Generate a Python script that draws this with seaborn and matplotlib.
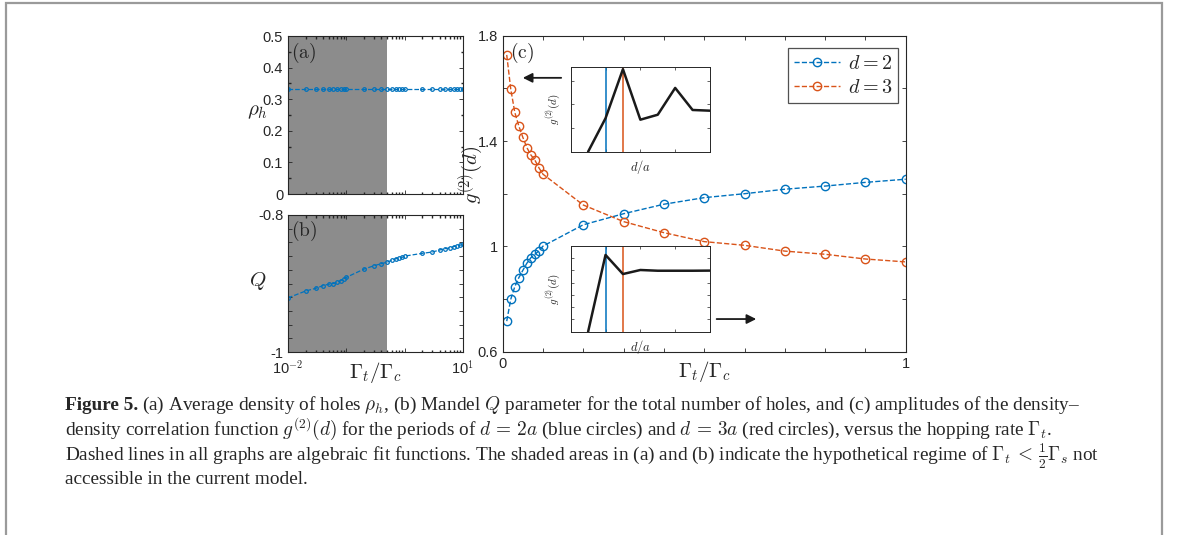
import numpy as np
import matplotlib
matplotlib.use("Agg")
import matplotlib.pyplot as plt
import seaborn as sns
from matplotlib.patches import Rectangle

# ---- data ----
# hopping rate samples (log panels)
gamma_log = [0.01, 0.02, 0.03, 0.04, 0.05, 0.06, 0.07, 0.08, 0.09, 0.1,
             0.2, 0.3, 0.4, 0.5, 0.6, 0.7, 0.8, 0.9, 1.0,
             2, 3, 4, 5, 6, 7, 8, 9, 10]
rho_h = [0.333] * 28
mandel_q = [-0.921, -0.911, -0.907, -0.903, -0.901, -0.900, -0.898, -0.896, -0.893, -0.891,
            -0.879, -0.874, -0.871, -0.869, -0.866, -0.864, -0.863, -0.862,
            -0.860, -0.856, -0.854, -0.851, -0.849, -0.848, -0.846, -0.845, -0.844, -0.843]
shade_lo, shade_hi = 0.01, 0.5

# panel (c)
gamma_lin = [0.01, 0.02, 0.03, 0.04, 0.05, 0.06, 0.07, 0.08, 0.09, 0.1,
             0.2, 0.3, 0.4, 0.5, 0.6, 0.7, 0.8, 0.9, 1.0]
g2_d2 = [0.716, 0.799, 0.847, 0.881, 0.909, 0.936, 0.957, 0.970, 0.983, 1.001,
         1.082, 1.124, 1.160, 1.185, 1.200, 1.217, 1.229, 1.243, 1.255]
g2_d3 = [1.727, 1.597, 1.509, 1.457, 1.414, 1.375, 1.347, 1.327, 1.298, 1.274,
         1.157, 1.094, 1.052, 1.018, 1.004, 0.982, 0.970, 0.952, 0.941]

# insets: g2(d) profile vs d/a (arbitrary units)
d_sites = [1, 2, 3, 4, 5, 6, 7, 8]
g2_profile_top = [0.0, 1.41, 3.48, 1.35, 1.56, 2.69, 1.76, 1.73]
g2_profile_bot = [0.0, 6.27, 4.71, 5.04, 4.98, 4.98, 4.98, 4.99]

BLUE = "#0072BD"
ORANGE = "#D95319"
SHADE = "#8c8c8c"

sns.set_theme(style="ticks")
plt.rcParams.update({
    "font.family": ["Liberation Sans", "DejaVu Sans"],
    "mathtext.fontset": "cm",
    "xtick.direction": "in",
    "ytick.direction": "in",
    "xtick.top": True,
    "ytick.right": True,
    "xtick.major.size": 3,
    "ytick.major.size": 3,
    "xtick.minor.size": 1.8,
    "ytick.minor.size": 1.8,
    "xtick.major.width": 0.6,
    "ytick.major.width": 0.6,
    "axes.edgecolor": "#262626",
    "axes.linewidth": 0.8,
    "xtick.labelsize": 10.5,
    "ytick.labelsize": 10.5,
    "xtick.color": "#262626",
    "ytick.color": "#262626",
})

W, H = 1179, 535
fig = plt.figure(figsize=(W / 100, H / 100), dpi=100)


def box(l, t, r, b):
    return [l / W, 1 - b / H, (r - l) / W, (b - t) / H]


ax_a = fig.add_axes(box(288, 36, 463, 194))
ax_b = fig.add_axes(box(288, 215, 463, 352))
ax_c = fig.add_axes(box(502.7, 35.7, 905.7, 351.7))
ax_i1 = fig.add_axes(box(570.7, 67.3, 710, 151.7))
ax_i2 = fig.add_axes(box(570.7, 246, 710, 331.7))

small = dict(marker="o", markersize=2.6, markerfacecolor="none", markeredgecolor=BLUE,
             markeredgewidth=0.9, linestyle="--", dashes=(3, 3), lw=0.9, color=BLUE)

# ---- (a) ----
ax_a.axvspan(shade_lo, shade_hi, color=SHADE, lw=0, zorder=0)
sns.lineplot(x=gamma_log, y=rho_h, ax=ax_a, **small)
ax_a.set_xscale("log")
ax_a.set_xlim(0.01, 10)
ax_a.set_ylim(0, 0.5)
ax_a.set_yticks(np.arange(0, 0.51, 0.1))
ax_a.set_yticklabels(["0", "0.1", "0.2", "0.3", "0.4", "0.5"])
ax_a.set_yticks(np.arange(0.05, 0.5, 0.1), minor=True)
ax_a.set_xticks([0.01, 0.1, 1, 10])
ax_a.set_xticklabels([])
ax_a.set_xlabel("")
ax_a.set_ylabel("")
ax_a.text(-0.175, 0.52, r"$\rho_h$", transform=ax_a.transAxes, fontsize=15,
          ha="center", va="center")
ax_a.text(0.015, 0.97, r"$\mathrm{(a)}$", transform=ax_a.transAxes, fontsize=14, va="top", ha="left")

# ---- (b) ----
ax_b.axvspan(shade_lo, shade_hi, color=SHADE, lw=0, zorder=0)
sns.lineplot(x=gamma_log, y=mandel_q, ax=ax_b, **small)
ax_b.set_xscale("log")
ax_b.set_xlim(0.01, 10)
ax_b.set_ylim(-1, -0.8)
ax_b.set_yticks(np.linspace(-1, -0.8, 11))
ax_b.set_yticklabels(["-1"] + [""] * 9 + ["-0.8"])
ax_b.set_xticks([0.01, 0.1, 1, 10])
ax_b.xaxis.set_major_formatter(matplotlib.ticker.FixedFormatter(["10$^{-2}$", "", "", "10$^{1}$"]))
ax_b.tick_params(axis="x", pad=5)
ax_b.set_ylabel("")
ax_b.set_xlabel("")
ax_b.text(-0.175, 0.52, r"$Q$", transform=ax_b.transAxes, fontsize=15, ha="center", va="center")
ax_b.text(0.5, -0.15, r"$\Gamma_t/\Gamma_c$", transform=ax_b.transAxes, fontsize=15,
          ha="center", va="center")
ax_b.text(0.015, 0.97, r"$\mathrm{(b)}$", transform=ax_b.transAxes, fontsize=14, va="top", ha="left")

# ---- (c) ----
big = dict(marker="o", markersize=6, markerfacecolor="none", markeredgewidth=1.0,
           linestyle="--", dashes=(4, 3), lw=1.0)
sns.lineplot(x=gamma_lin, y=g2_d2, ax=ax_c, color=BLUE, markeredgecolor=BLUE,
             label=r"$d=2$", **big)
sns.lineplot(x=gamma_lin, y=g2_d3, ax=ax_c, color=ORANGE, markeredgecolor=ORANGE,
             label=r"$d=3$", **big)
ax_c.set_xlim(0, 1)
ax_c.set_ylim(0.6, 1.8)
ax_c.set_xticks(np.linspace(0, 1, 11))
ax_c.set_xticklabels(["0"] + [""] * 9 + ["1"])
ax_c.set_yticks(np.linspace(0.6, 1.8, 7))
ax_c.set_yticklabels(["0.6", "", "1", "", "1.4", "", "1.8"])
ax_c.set_ylabel("")
ax_c.set_xlabel("")
ax_c.text(-0.081, 0.56, r"$g^{(2)}(d)$", transform=ax_c.transAxes, fontsize=15,
          ha="center", va="center", rotation=90)
ax_c.text(0.5, -0.064, r"$\Gamma_t/\Gamma_c$", transform=ax_c.transAxes, fontsize=15,
          ha="center", va="center")
ax_c.text(0.018, 0.985, r"$\mathrm{(c)}$", transform=ax_c.transAxes, fontsize=14, va="top", ha="left")
leg = ax_c.legend(loc="upper right", bbox_to_anchor=(0.982, 0.96), fontsize=14.5,
                  frameon=True, fancybox=False, handlelength=2.3, handletextpad=0.4,
                  borderpad=0.3, labelspacing=0.25, borderaxespad=0)
leg.get_frame().set_edgecolor("#262626")
leg.get_frame().set_linewidth(0.9)

# arrows pointing from insets to the relevant regime
ax_c.annotate("", xy=(0.043, 1.640), xytext=(0.152, 1.640),
              arrowprops=dict(arrowstyle="-|>", color="k", lw=1.3, mutation_scale=14))
ax_c.annotate("", xy=(0.636, 0.724), xytext=(0.524, 0.724),
              arrowprops=dict(arrowstyle="-|>", color="k", lw=1.3, mutation_scale=14))

# ---- insets ----
for ax_in, prof, ylim in [(ax_i1, g2_profile_top, (0, 3.56)), (ax_i2, g2_profile_bot, (0, 7))]:
    ax_in.axvline(2, color=BLUE, lw=1.1)
    ax_in.axvline(3, color=ORANGE, lw=1.1)
    sns.lineplot(x=d_sites, y=prof, ax=ax_in, color="k", lw=1.8)
    ax_in.set_xlim(0, 8)
    ax_in.set_ylim(*ylim)
    ax_in.set_xticks([0, 2, 4, 6, 8])
    ax_in.set_yticks(np.arange(1, ylim[1], 1))
    ax_in.set_xticklabels([])
    ax_in.set_yticklabels([])
    ax_in.tick_params(length=2, width=0.5)
    ax_in.set_xlabel(r"$d/a$", fontsize=9, labelpad=1)
    ax_in.set_ylabel(r"$g^{(2)}(d)$", fontsize=8, labelpad=2)
    for s in ax_in.spines.values():
        s.set_linewidth(0.7)

# ---- caption ----
fig.add_artist(Rectangle((6 / W, -0.05), (1161.7 - 6) / W, 1 - 3 / H + 0.05,
                         transform=fig.transFigure, fill=False, edgecolor="#9a9a9a", lw=1.6))

serif = ["Liberation Serif", "DejaVu Serif"]
cap_fs = 13.9
x0 = 65 / W
fig.canvas.draw()
r = fig.canvas.get_renderer()
t_bold = fig.text(x0, 1 - 410 / H, "Figure 5.", fontsize=cap_fs, fontweight="bold", family=serif)
bb = t_bold.get_window_extent(renderer=r)
fig.text(bb.x1 / W + 4 / W, 1 - 410 / H,
         r"(a) Average density of holes $\rho_h$, (b) Mandel $Q$ parameter for the total number of holes, and (c) amplitudes of the density–",
         fontsize=cap_fs, family=serif)
cap_lines = [
    r"density correlation function $g^{(2)}(d)$ for the periods of $d\,=\,2a$ (blue circles) and $d\,=\,3a$ (red circles), versus the hopping rate $\Gamma_t$.",
    r"Dashed lines in all graphs are algebraic fit functions. The shaded areas in (a) and (b) indicate the hypothetical regime of $\Gamma_t\,<\,\frac{1}{2}\Gamma_s$ not",
    "accessible in the current model.",
]
cap_baselines = [435, 461, 484]
for line, yb in zip(cap_lines, cap_baselines):
    fig.text(x0, 1 - yb / H, line, fontsize=cap_fs, family=serif)

fig.savefig("out.png", dpi=100)
